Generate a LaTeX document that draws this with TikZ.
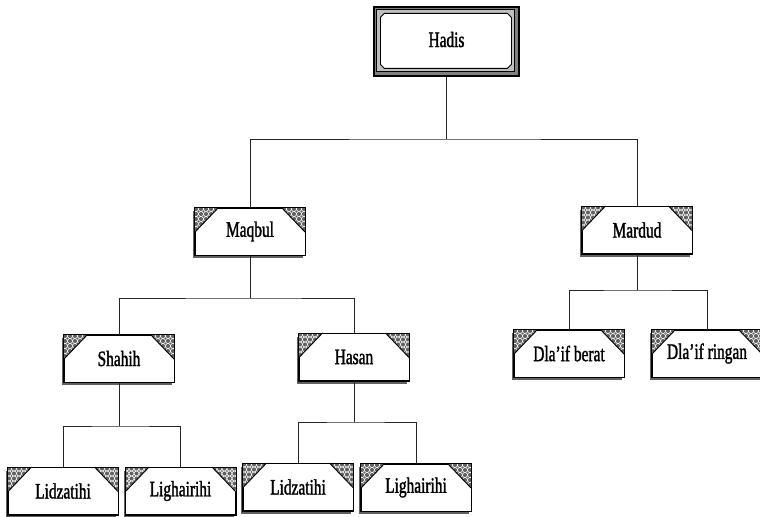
\documentclass[tikz,border=0pt]{standalone}
\usepackage{fontspec}
\setmainfont{Liberation Serif}[FakeStretch=0.7,FakeBold=1.4]
\usetikzlibrary{shadows}
\newcommand{\cornerdeco}[1]{%
  \begin{scope}[shift={(#1.north west)}]
    \begin{scope}
      \clip (0,0) -- (24,0) -- (0,25) -- cycle;
      \fill[black!62] (-1,-1) rectangle (26,27);
      \foreach \i in {0,...,5}{\foreach \j in {0,...,5}{%
        \draw[white,line width=0.4pt] (\i*5+1.5,\j*5+1.5) circle[radius=1.9pt];}}
    \end{scope}
    \draw[black,line width=0.7pt] (24,0) -- (0,25);
  \end{scope}
  \begin{scope}[shift={(#1.north east)}]
    \begin{scope}
      \clip (0,0) -- (-24,0) -- (0,25) -- cycle;
      \fill[black!62] (1,-1) rectangle (-26,27);
      \foreach \i in {0,...,5}{\foreach \j in {0,...,5}{%
        \draw[white,line width=0.4pt] (-\i*5-1.5,\j*5+1.5) circle[radius=1.9pt];}}
    \end{scope}
    \draw[black,line width=0.7pt] (-24,0) -- (0,25);
  \end{scope}
  \draw[black,line width=0.75pt] (#1.north west) rectangle (#1.south east);%
}
\tikzset{
  box/.style={draw=black, line width=0.75pt, fill=white, inner sep=0pt,
    minimum width=82.5pt, minimum height=35.25pt,
    font=\fontsize{16.5}{19}\selectfont,
    drop shadow={shadow xshift=-1.5pt, shadow yshift=-2.25pt, fill=black!62, opacity=1}},
  topbox/.style={draw=black, line width=0.9pt, fill=black!50, inner sep=0pt,
    minimum width=108.75pt, minimum height=51.75pt},
  toptext/.style={inner sep=0pt, font=\fontsize{16.5}{19}\selectfont},
  link/.style={draw=black!85, line width=0.75pt}
}
\begin{document}
\begin{tikzpicture}[x=0.75pt,y=-0.75pt]
\useasboundingbox (0,0) rectangle (760,517);
% top node with double frame
\node[topbox] (hadis) at (446.5,41.5) {};
\begin{scope}[shift={(hadis.north west)}]
  \draw[black,line width=0.75pt,fill=black!25] (3.5,3.5) rectangle (141.5,65.5);
  \draw[black,line width=0.6pt,fill=white] (11,7) -- (134,7) -- (138,11) -- (138,58) -- (134,62) -- (11,62) -- (7,58) -- (7,11) -- cycle;
\end{scope}
\node[toptext] (hadistext) at ([yshift=1.5pt]hadis.center) {Hadis};
% other nodes
\node[box] (maqbul) at (250,231.5) {Maqbul};
\node[box] (mardud) at (637,230) {Mardud};
\node[box] (shahih) at (119,358.5) {Shahih};
\node[box] (hasan) at (354,357) {Hasan};
\node[box] (berat) at (569,353.5) {Dla{\char"0027}if berat};
\node[box] (ringan) at (707,353.5) {Dla{\char"0027}if ringan};
\node[box] (lid1) at (63,491) {Lidzatihi};
\node[box] (lig1) at (180.5,491) {Lighairihi};
\node[box] (lid2) at (298,487) {Lidzatihi};
\node[box] (lig2) at (416,487.5) {Lighairihi};
\foreach \n in {maqbul,mardud,shahih,hasan,berat,ringan,lid1,lig1,lid2,lig2}{\cornerdeco{\n}}
\coordinate (j0) at (446.5,139);
\coordinate (j1) at (250,298);
\coordinate (j2) at (637,290);
\coordinate (j3) at (119,426);
\coordinate (j4) at (354,422);
\draw[link] (hadis.south) -- (j0);
\draw[link] (maqbul.north) |- (j0) -| (mardud.north);
\draw[link] (maqbul.south) -- (j1);
\draw[link] (shahih.north) |- (j1) -| (hasan.north);
\draw[link] (mardud.south) -- (j2);
\draw[link] (berat.north) |- (j2) -| (ringan.north);
\draw[link] (shahih.south) -- (j3);
\draw[link] (lid1.north) |- (j3) -| (lig1.north);
\draw[link] (hasan.south) -- (j4);
\draw[link] (lid2.north) |- (j4) -| (lig2.north);
\end{tikzpicture}
\end{document}
